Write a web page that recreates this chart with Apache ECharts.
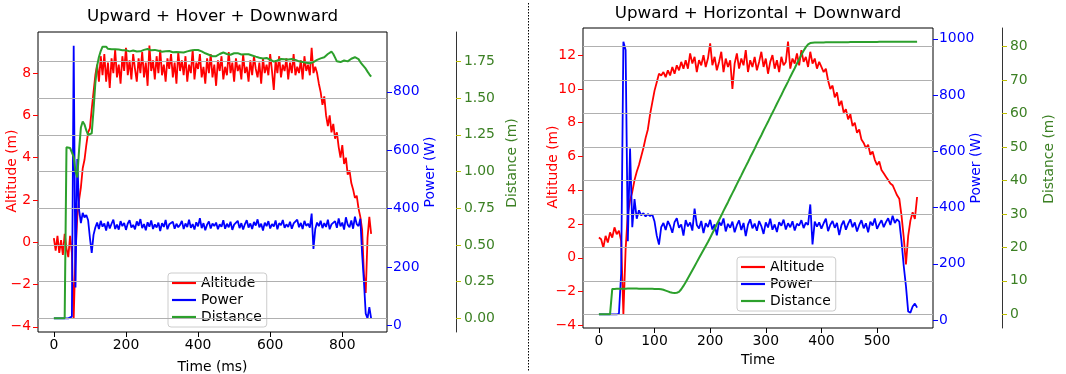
<!DOCTYPE html>
<html>
<head>
<meta charset="utf-8">
<script src="https://cdn.jsdelivr.net/npm/echarts@6/dist/echarts.min.js"></script>
<style>
html,body{margin:0;padding:0;background:#fff;}
#chart{width:1066px;height:374px;}
</style>
</head>
<body>
<div id="chart"></div>
<script>
// ---------- Left panel: Upward + Hover + Downward (sampled every 5 ms from t = 0) ----------
const L_T0 = 0, L_DT = 5;
const L_ALT = [
/*0*/   0.2,-0.4,0.3,-0.5,0.1,-0.6,0.4,-0.3,-0.7,0.3,
/*50*/  -0.5,-3.6,-0.5,1.2,2.0,2.6,3.5,3.9,4.6,5.2,
/*100*/ 5.4,6.3,7.1,7.9,8.4,7.6,8.8,7.9,8.9,7.6,
/*150*/ 8.5,7.3,8.7,8.0,9.1,7.8,8.4,7.5,8.8,8.1,
/*200*/ 9.2,7.9,8.6,7.7,8.9,8.2,7.6,8.7,8.0,9.0,
/*250*/ 7.8,8.5,7.4,9.3,8.1,8.6,7.7,8.8,8.0,9.1,
/*300*/ 7.9,8.4,7.6,8.7,8.2,8.9,7.8,8.5,7.5,9.0,
/*350*/ 8.1,8.6,7.9,8.8,7.6,8.4,8.0,9.1,7.7,8.5,
/*400*/ 8.2,8.9,7.8,8.3,7.5,8.7,8.0,8.9,7.8,8.4,
/*450*/ 7.4,8.6,8.1,8.8,7.7,8.3,7.9,9.0,8.0,8.5,
/*500*/ 7.6,8.7,8.1,8.4,7.7,8.9,8.0,8.3,7.6,8.6,
/*550*/ 7.9,8.8,8.2,7.8,8.5,7.5,8.7,8.0,8.4,7.9,
/*600*/ 8.9,8.1,7.2,8.6,8.0,8.8,7.8,8.4,8.1,8.7,
/*650*/ 7.7,8.5,8.0,8.9,7.9,8.3,8.0,8.6,7.7,8.8,
/*700*/ 8.1,8.4,7.9,9.2,8.0,8.3,8.0,7.5,7.1,6.5,
/*750*/ 6.9,6.0,5.5,6.0,5.2,5.6,4.9,5.2,4.5,4.0,
/*800*/ 4.6,3.7,4.0,3.2,3.4,2.8,2.5,2.1,2.2,1.6,
/*850*/ 1.2,0.6,-1.5,-2.4,0.2,1.2,0.4
];
const L_POW = [
/*0*/   24,24,24,24,24,24,24,24,24,26,
/*50*/  30,958,130,570,395,350,385,370,378,360,
/*100*/ 300,248,310,335,352,330,358,338,349,325,
/*150*/ 355,332,348,362,330,345,328,357,340,351,
/*200*/ 327,349,360,335,344,329,356,341,364,333,
/*250*/ 347,326,353,338,359,330,346,335,352,323,
/*300*/ 350,337,361,329,346,340,355,331,348,336,
/*350*/ 344,358,330,349,337,362,334,347,328,353,
/*400*/ 339,367,333,350,326,345,356,332,349,340,
/*450*/ 352,329,346,338,360,331,348,336,355,327,
/*500*/ 345,341,358,333,350,328,347,360,335,349,
/*550*/ 330,354,342,363,336,348,325,352,340,357,
/*600*/ 332,347,339,359,329,350,343,361,334,346,
/*650*/ 337,355,331,349,344,362,336,351,330,358,
/*700*/ 341,348,335,383,262,330,352,340,358,333,
/*750*/ 350,337,362,329,346,341,357,334,366,339,
/*800*/ 352,328,370,345,336,359,331,372,347,340,
/*850*/ 365,245,150,40,24,62,24
];
const L_DIST = [
/*0*/   0,0,0,0,0,0,0,1.165,1.165,1.16,
/*50*/  1.16,1.10,1.00,0.96,1.15,1.30,1.34,1.32,1.28,1.25,
/*100*/ 1.24,1.26,1.42,1.60,1.72,1.78,1.82,1.85,1.857,1.85,
/*150*/ 1.835,1.83,1.832,1.83,1.832,1.831,1.83,1.828,1.826,1.827,
/*200*/ 1.826,1.822,1.818,1.82,1.824,1.822,1.817,1.815,1.818,1.822,
/*250*/ 1.828,1.833,1.834,1.83,1.825,1.824,1.828,1.826,1.822,1.818,
/*300*/ 1.816,1.815,1.818,1.822,1.82,1.816,1.812,1.81,1.814,1.816,
/*350*/ 1.812,1.808,1.81,1.815,1.818,1.82,1.824,1.826,1.827,1.828,
/*400*/ 1.827,1.824,1.818,1.812,1.805,1.8,1.795,1.79,1.785,1.782,
/*450*/ 1.785,1.792,1.80,1.808,1.81,1.806,1.80,1.796,1.795,1.80,
/*500*/ 1.805,1.808,1.806,1.80,1.797,1.795,1.798,1.80,1.798,1.795,
/*550*/ 1.79,1.785,1.782,1.778,1.775,1.771,1.77,1.772,1.773,1.77,
/*600*/ 1.762,1.752,1.748,1.75,1.756,1.762,1.766,1.766,1.764,1.76,
/*650*/ 1.762,1.765,1.766,1.764,1.76,1.755,1.75,1.748,1.745,1.742,
/*700*/ 1.74,1.738,1.737,1.74,1.745,1.752,1.76,1.766,1.77,1.771,
/*750*/ 1.778,1.79,1.80,1.812,1.816,1.80,1.775,1.75,1.738,1.745,
/*800*/ 1.752,1.756,1.753,1.75,1.76,1.768,1.775,1.778,1.776,1.765,
/*850*/ 1.745,1.73,1.718,1.70,1.68,1.662,1.646
];
const L_TIME_TICKS = [0,200,400,600,800];
const L_ALT_TICKS = [-4,-2,0,2,4,6,8];
const L_POW_TICKS = [0,200,400,600,800];
const L_DIST_TICKS = [0,0.25,0.5,0.75,1,1.25,1.5,1.75];

// ---------- Right panel: Upward + Horizontal + Downward (sampled every 4 units from t = 0) ----------
const R_T0 = 0, R_DT = 4;
const R_ALT = [
/*0*/   1.2,1.1,0.6,1.3,0.9,1.5,1.2,1.8,1.4,1.6,
/*40*/  1.0,-3.35,0.5,2.6,3.4,3.9,4.6,5.1,5.5,6.0,
/*80*/  6.5,7.1,7.6,8.5,9.2,9.9,10.4,10.9,10.8,11.0,
/*120*/ 10.7,11.1,10.8,11.3,10.9,11.4,11.1,11.6,11.2,11.7,
/*160*/ 11.2,12.1,11.5,11.9,11.0,11.7,11.4,12.0,11.3,11.8,
/*200*/ 12.7,11.4,11.9,11.1,11.6,12.2,11.0,11.8,11.3,11.7,
/*240*/ 10.0,11.5,12.1,11.2,11.8,11.4,12.3,11.0,11.7,11.3,
/*280*/ 11.9,11.1,11.6,12.2,11.3,11.8,10.9,11.6,12.0,11.2,
/*320*/ 11.7,11.0,11.9,11.4,11.6,12.8,11.2,11.8,11.5,12.1,
/*360*/ 11.4,12.3,11.6,11.9,11.3,12.2,11.5,11.8,11.2,11.6,
/*400*/ 11.3,11.0,11.2,10.5,10.0,10.2,9.5,9.8,9.0,9.3,
/*440*/ 8.6,8.8,8.2,8.5,7.8,8.0,7.4,7.6,7.0,6.8,
/*480*/ 6.5,6.7,6.1,6.3,5.8,5.5,5.7,5.2,5.0,4.8,
/*520*/ 4.6,4.4,4.3,4.0,3.7,3.5,2.5,1.2,-0.4,1.3,
/*560*/ 2.2,2.7,2.3,3.6
];
const R_POW = [
/*0*/   20,20,20,20,20,20,20,20,20,22,
/*40*/  165,990,960,280,610,330,430,360,390,372,
/*80*/  380,368,377,370,375,350,300,268,330,345,
/*120*/ 320,352,335,310,348,362,328,340,300,355,
/*160*/ 333,347,318,396,338,325,352,309,344,331,
/*200*/ 356,322,340,301,349,336,361,315,342,328,
/*240*/ 350,312,337,354,320,345,298,339,358,326,
/*280*/ 343,317,352,334,306,347,329,360,321,340,
/*320*/ 313,348,335,357,322,344,330,351,318,342,
/*360*/ 336,355,327,346,338,411,269,350,332,347,
/*400*/ 325,344,360,316,339,352,328,345,302,337,
/*440*/ 353,321,342,358,330,347,315,338,355,326,
/*480*/ 344,312,350,336,361,324,341,355,330,348,
/*520*/ 362,338,371,345,358,350,280,192,120,30,
/*560*/ 26,48,58,44
];
const R_DIST = [
/*0*/   0,0,0,0,0,0,7.6,7.6,7.62,7.63,
/*40*/  7.65,7.66,7.68,7.7,7.72,7.73,7.72,7.7,7.68,7.66,
/*80*/  7.65,7.64,7.63,7.62,7.62,7.6,7.58,7.55,7.5,7.35,
/*120*/ 7.1,6.85,6.6,6.45,6.4,6.45,6.7,7.5,8.5,9.6,
/*160*/ 10.8,12.0,13.2,14.4,15.6,16.8,18.0,19.2,20.4,21.6,
/*200*/ 22.9,24.2,25.5,26.9,28.2,29.5,30.9,32.2,33.5,34.9,
/*240*/ 36.2,37.5,38.9,40.2,41.5,42.9,44.2,45.5,46.9,48.2,
/*280*/ 49.5,50.9,52.2,53.5,54.9,56.2,57.5,58.9,60.2,61.5,
/*320*/ 62.9,64.2,65.5,66.9,68.2,69.5,70.9,72.2,73.5,74.9,
/*360*/ 76.2,77.5,78.7,79.8,80.6,81.0,81.1,81.15,81.2,81.2,
/*400*/ 81.2,81.2,81.22,81.22,81.23,81.24,81.25,81.25,81.26,81.27,
/*440*/ 81.28,81.28,81.29,81.3,81.3,81.31,81.32,81.32,81.33,81.33,
/*480*/ 81.34,81.34,81.35,81.35,81.36,81.36,81.37,81.37,81.38,81.38,
/*520*/ 81.38,81.39,81.39,81.4,81.4,81.4,81.41,81.41,81.42,81.42,
/*560*/ 81.42,81.43,81.43,81.44
];
const R_TIME_TICKS = [0,100,200,300,400,500];
const R_ALT_TICKS = [-4,-2,0,2,4,6,8,10,12];
const R_POW_TICKS = [0,200,400,600,800,1000];
const R_DIST_TICKS = [0,10,20,30,40,50,60,70,80];

const TITLES = ['Upward + Hover + Downward', 'Upward + Horizontal + Downward'];
const X_NAMES = ['Time (ms)', 'Time'];
const NAMES = ['Altitude', 'Power', 'Distance'];

// ---------- styling ----------
const FONT = 'DejaVu Sans';
const FS = 13.9;
const RED = '#ff0000', BLUE = '#0000ff', GREEN = '#2ca02c', DGREEN = '#3c8024', TICKY = '#bfbf00';
const MINUS = '\u2212';

function pairs(t0, dt, arr) { return arr.map((v, i) => [t0 + i * dt, v]); }
function padRange(lo, hi) { const m = (hi - lo) * 0.05; return [lo - m, hi + m]; }
function ext(arr) { return padRange(Math.min.apply(null, arr), Math.max.apply(null, arr)); }
function fmtMinus(v) { return String(v).replace('-', MINUS); }
function fmtPlain(v) { return String(v); }

const panels = [
  { t0: L_T0, dt: L_DT, alt: L_ALT, pow: L_POW, dist: L_DIST,
    tt: L_TIME_TICKS, at: L_ALT_TICKS, pt: L_POW_TICKS, dt2: L_DIST_TICKS,
    grid: { left: 38, top: 32, width: 349, height: 300 },
    altGap: 19, powGap: 36, distGap: 49, xGap: 28, distOffset: 69,
    distFmt: v => v.toFixed(2),
    title: { x: 212.5, top: 8 },
    legend: { left: 168, top: 273 } },
  { t0: R_T0, dt: R_DT, alt: R_ALT, pow: R_POW, dist: R_DIST,
    tt: R_TIME_TICKS, at: R_ALT_TICKS, pt: R_POW_TICKS, dt2: R_DIST_TICKS,
    grid: { left: 583, top: 28, width: 350, height: 300 },
    altGap: 23, powGap: 36, distGap: 40, xGap: 25, distOffset: 69,
    distFmt: v => String(v),
    title: { x: 758, top: 5 },
    legend: { left: 737, top: 257 } }
];

const option = {
  animation: false,
  backgroundColor: '#fff',
  textStyle: { fontFamily: FONT },
  title: [], grid: [], xAxis: [], yAxis: [], series: [], legend: [],
  graphic: [{
    type: 'line', silent: true,
    shape: { x1: 528.5, y1: 3, x2: 528.5, y2: 372 },
    style: { stroke: '#000', lineWidth: 1, lineDash: [1.5, 1.5] }
  }]
};

panels.forEach((p, gi) => {
  const n = p.alt.length;
  const xr = padRange(p.t0, p.t0 + (n - 1) * p.dt);
  const ar = ext(p.alt), pr = ext(p.pow), dr = ext(p.dist);

  option.title.push({
    text: TITLES[gi], left: p.title.x, top: p.title.top, textAlign: 'center', padding: 0,
    textStyle: { fontFamily: FONT, fontSize: 16.7, fontWeight: 'normal', color: '#000' }
  });
  option.grid.push(Object.assign({
    show: true, borderColor: '#000', borderWidth: 1, backgroundColor: 'transparent',
    containLabel: false, outerBoundsMode: 'none'
  }, p.grid));

  option.xAxis.push({
    type: 'value', gridIndex: gi, min: xr[0], max: xr[1], position: 'bottom',
    axisLine: { show: false, onZero: false }, splitLine: { show: false },
    axisTick: { show: true, customValues: p.tt, length: 5, lineStyle: { color: '#000', width: 1 } },
    axisLabel: { customValues: p.tt, margin: 6, color: '#000', fontSize: FS, fontFamily: FONT, formatter: fmtPlain },
    name: X_NAMES[gi], nameLocation: 'middle', nameGap: p.xGap, nameMoveOverlap: false,
    nameTextStyle: { color: '#000', fontSize: FS, fontFamily: FONT }
  });

  // altitude (left)
  option.yAxis.push({
    type: 'value', gridIndex: gi, position: 'left', min: ar[0], max: ar[1],
    axisLine: { show: false, onZero: false }, splitLine: { show: false },
    axisTick: { show: true, customValues: p.at, length: 5, lineStyle: { color: RED, width: 1 } },
    axisLabel: { customValues: p.at, margin: 7, color: RED, fontSize: FS, fontFamily: FONT, formatter: fmtMinus },
    name: 'Altitude (m)', nameLocation: 'middle', nameGap: p.altGap, nameRotate: 90, nameMoveOverlap: false,
    nameTextStyle: { color: RED, fontSize: FS, fontFamily: FONT, padding: [0, 0, 0, 22] }
  });
  // power (right)
  option.yAxis.push({
    type: 'value', gridIndex: gi, position: 'right', offset: 0, min: pr[0], max: pr[1],
    axisLine: { show: false, onZero: false }, splitLine: { show: false },
    axisTick: { show: true, customValues: p.pt, length: 5, lineStyle: { color: BLUE, width: 1 } },
    axisLabel: { customValues: p.pt, margin: 6, color: BLUE, fontSize: FS, fontFamily: FONT, formatter: fmtPlain },
    name: 'Power (W)', nameLocation: 'middle', nameGap: p.powGap, nameRotate: 90, nameMoveOverlap: false,
    nameTextStyle: { color: BLUE, fontSize: FS, fontFamily: FONT, padding: [0, 0, 0, 20] }
  });
  // distance (outer right)
  option.yAxis.push({
    type: 'value', gridIndex: gi, position: 'right', offset: p.distOffset, min: dr[0], max: dr[1],
    axisLine: { show: true, onZero: false, lineStyle: { color: '#333', width: 1 } }, splitLine: { show: false },
    axisTick: { show: true, customValues: p.dt2, length: 5, lineStyle: { color: TICKY, width: 1 } },
    axisLabel: { customValues: p.dt2, margin: 8, color: DGREEN, fontSize: FS, fontFamily: FONT, formatter: p.distFmt },
    name: 'Distance (m)', nameLocation: 'middle', nameGap: p.distGap, nameRotate: 90, nameMoveOverlap: false,
    nameTextStyle: { color: DGREEN, fontSize: FS, fontFamily: FONT, padding: [0, 0, 0, 38] }
  });

  const yBase = gi * 3;
  const common = { type: 'line', xAxisIndex: gi, symbol: 'none', showSymbol: false, silent: true, emphasis: { disabled: true } };
  option.series.push(Object.assign({}, common, {
    name: NAMES[0], yAxisIndex: yBase, z: 2, color: RED,
    lineStyle: { color: RED, width: 1.8 }, data: pairs(p.t0, p.dt, p.alt)
  }));
  option.series.push(Object.assign({}, common, {
    name: NAMES[1], yAxisIndex: yBase + 1, z: 3, color: BLUE,
    lineStyle: { color: BLUE, width: 1.8 }, data: pairs(p.t0, p.dt, p.pow)
  }));
  option.series.push(Object.assign({}, common, {
    name: NAMES[2], yAxisIndex: yBase + 2, z: 6, color: GREEN,
    lineStyle: { color: GREEN, width: 2 }, data: pairs(p.t0, p.dt, p.dist),
    markLine: {
      silent: true, symbol: ['none', 'none'], z: 5, animation: false,
      label: { show: false }, emphasis: { disabled: true },
      lineStyle: { color: '#b0b0b0', width: 1.1, type: 'solid' },
      data: p.dt2.map(v => ({ yAxis: v }))
    }
  }));

  option.legend.push({
    orient: 'vertical', left: p.legend.left, top: p.legend.top,
    data: NAMES, selectedMode: false,
    icon: 'rect', itemWidth: 24, itemHeight: 2.2, itemGap: 3,
    padding: [3, 5, 3, 4],
    backgroundColor: 'rgba(255,255,255,0.8)', borderColor: '#cccccc', borderWidth: 1, borderRadius: 3,
    textStyle: { color: '#000', fontSize: FS, fontFamily: FONT }
  });
});

const chart = echarts.init(document.getElementById('chart'), null, { renderer: 'canvas' });
chart.setOption(option);
</script>
</body>
</html>
